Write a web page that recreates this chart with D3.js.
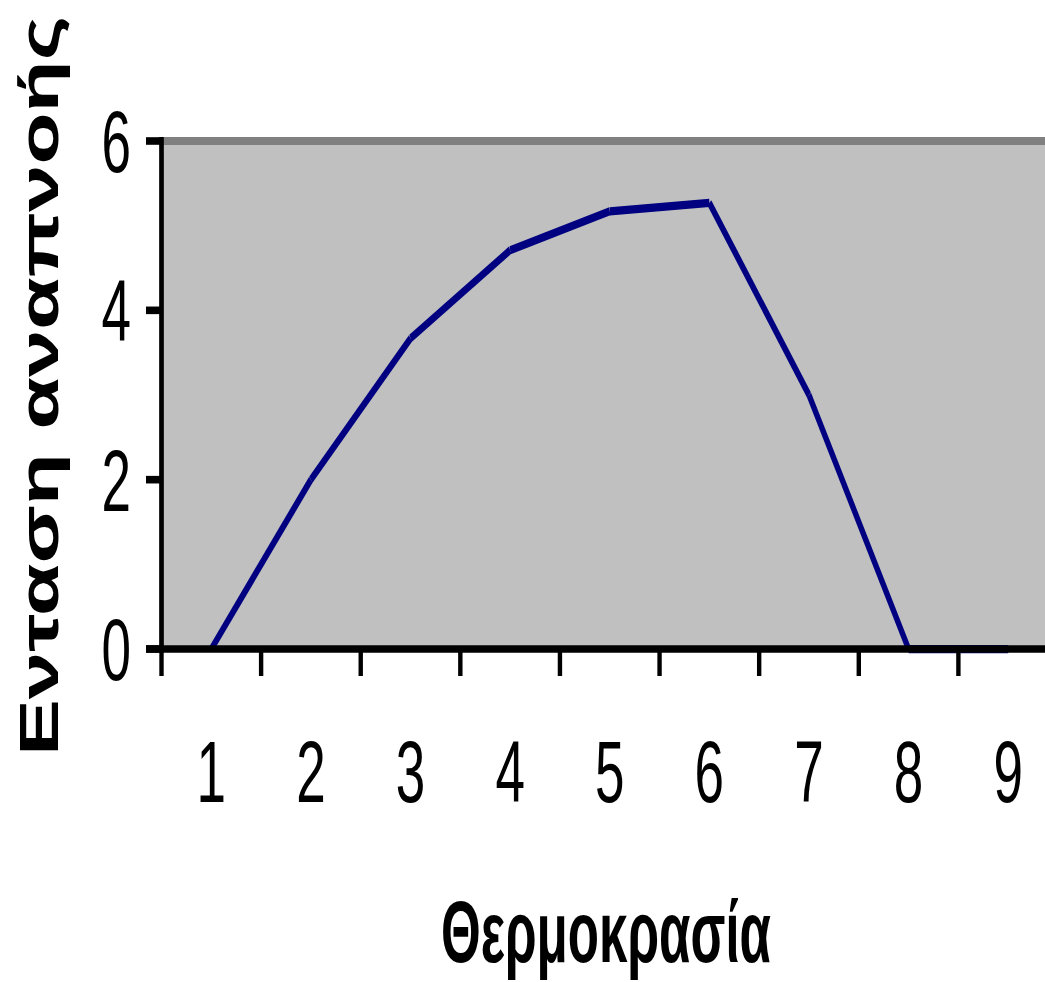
<!DOCTYPE html>
<html>
<head>
<meta charset="utf-8">
<script src="https://cdn.jsdelivr.net/npm/d3@7"></script>
<style>
html,body{margin:0;padding:0;background:#fff;}
svg{display:block;}
</style>
</head>
<body>
<svg id="chart" width="1045" height="982"></svg>
<script>
const categories = ['1','2','3','4','5','6','7','8','9'];
const values = [0, 2, 3.67, 4.71, 5.17, 5.27, 3.0, 0, 0];
const yTicks = [0, 2, 4, 6];
const xTitle = 'Θερμοκρασία';
const yTitle = 'Ενταση αναπνοής';

const K = 1.65; // vertical stretch of the original picture
const svg = d3.select('#chart');

const x = d3.scaleBand().domain(categories).range([161.5, 1058]);
const y = d3.scaleLinear().domain([0, 6]).range([649, 141]);
const xc = d => x(d) + x.bandwidth() / 2;

// plot area
svg.append('rect')
  .attr('x', x.range()[0]).attr('y', y(6))
  .attr('width', x.range()[1] - x.range()[0]).attr('height', y(0) - y(6))
  .attr('fill', '#C0C0C0');
// top border / gridline at max
svg.append('line')
  .attr('x1', x.range()[0]).attr('x2', x.range()[1])
  .attr('y1', y(6)).attr('y2', y(6))
  .attr('stroke', '#808080').attr('stroke-width', 8);

// series line (drawn in stretched space so thickness varies with angle)
const pts = categories.map((c, i) => [xc(c), y(values[i]) / K]);
const lg = svg.append('g').attr('transform', `scale(1,${K})`);
lg.selectAll('line.seg').data(d3.pairs(pts)).join('line')
  .attr('class', 'seg')
  .attr('x1', d => d[0][0]).attr('y1', d => d[0][1])
  .attr('x2', d => d[1][0]).attr('y2', d => d[1][1])
  .attr('stroke', '#000080').attr('stroke-width', 5)
  .attr('stroke-linecap', 'butt');

// x axis
const xAxisG = svg.append('g');
xAxisG.append('line')
  .attr('x1', 146).attr('x2', x.range()[1])
  .attr('y1', y(0)).attr('y2', y(0))
  .attr('stroke', '#000').attr('stroke-width', 7.4);
const edges = categories.map(c => x(c));
xAxisG.selectAll('line.xt').data(edges).join('line')
  .attr('class', 'xt')
  .attr('x1', d => d).attr('x2', d => d)
  .attr('y1', y(0)).attr('y2', 676)
  .attr('stroke', '#000').attr('stroke-width', 4.4);

// y axis
const yAxisG = svg.append('g');
yAxisG.append('line')
  .attr('x1', x.range()[0]).attr('x2', x.range()[0])
  .attr('y1', y(6) - 4).attr('y2', y(0) + 4)
  .attr('stroke', '#000').attr('stroke-width', 4.7);
yAxisG.selectAll('line.yt').data(yTicks).join('line')
  .attr('class', 'yt')
  .attr('x1', 146).attr('x2', x.range()[0])
  .attr('y1', d => y(d)).attr('y2', d => y(d))
  .attr('stroke', '#000').attr('stroke-width', 7.6);

// tick labels (stretched vertically)
const FS = 53;
svg.selectAll('text.xl').data(categories).join('text')
  .attr('class', 'xl')
  .attr('transform', d => `translate(${xc(d)},802) scale(1,${K})`)
  .attr('text-anchor', 'middle')
  .attr('font-family', '"Liberation Sans", Arial, sans-serif')
  .attr('font-size', FS).attr('fill', '#000')
  .text(d => d);
svg.selectAll('text.yl').data(yTicks).join('text')
  .attr('class', 'yl')
  .attr('transform', d => `translate(131,${y(d) + 31}) scale(1,${K})`)
  .attr('text-anchor', 'end')
  .attr('font-family', '"Liberation Sans", Arial, sans-serif')
  .attr('font-size', FS).attr('fill', '#000')
  .text(d => d);

// axis titles
svg.append('text')
  .attr('transform', 'translate(606,962) scale(1,1.35)')
  .attr('text-anchor', 'middle')
  .attr('font-family', '"Liberation Sans", Arial, sans-serif')
  .attr('font-weight', 'bold')
  .attr('font-size', 64)
  .attr('textLength', 330).attr('lengthAdjust', 'spacingAndGlyphs')
  .attr('fill', '#000')
  .text(xTitle);
svg.append('text')
  .attr('transform', 'translate(58,386) rotate(-90)')
  .attr('text-anchor', 'middle')
  .attr('font-family', '"Liberation Sans", Arial, sans-serif')
  .attr('font-weight', 'bold')
  .attr('font-size', 55)
  .attr('textLength', 740).attr('lengthAdjust', 'spacingAndGlyphs')
  .attr('fill', '#000')
  .text(yTitle);
</script>
</body>
</html>
